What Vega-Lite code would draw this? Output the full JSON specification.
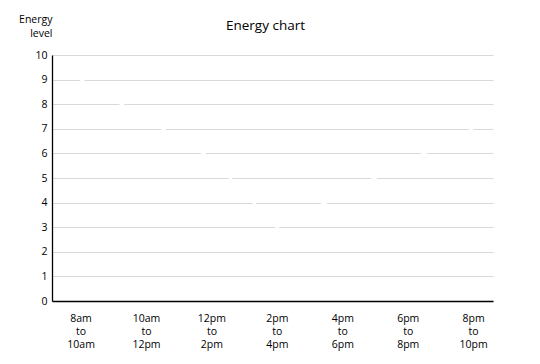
{
  "$schema": "https://vega.github.io/schema/vega-lite/v6.json",
  "autosize": {"type": "none"},
  "padding": {"left": 52, "top": 55, "right": 47, "bottom": 63},
  "width": 441,
  "height": 246,
  "background": "white",
  "title": {
    "text": "Energy chart",
    "font": "Open Sans",
    "fontSize": 13.5,
    "fontWeight": "normal",
    "color": "#000000",
    "anchor": "middle",
    "dx": -7,
    "offset": -18
  },
  "data": {
    "values": [
      {"period": "8am to 10am", "energy": 9},
      {"period": "10am to 12pm", "energy": 7.4},
      {"period": "12pm to 2pm", "energy": 5.8},
      {"period": "2pm to 4pm", "energy": 3},
      {"period": "4pm to 6pm", "energy": 4.33},
      {"period": "6pm to 8pm", "energy": 5.67},
      {"period": "8pm to 10pm", "energy": 7}
    ]
  },
  "mark": {"type": "line", "color": "white", "strokeWidth": 2.5},
  "encoding": {
    "x": {
      "field": "period",
      "type": "ordinal",
      "sort": null,
      "scale": {"type": "point", "padding": 0.37, "align": 0.59},
      "axis": {
        "title": null,
        "labelAngle": 0,
        "labelExpr": "split(datum.label, ' ')",
        "labelFont": "Open Sans",
        "labelFontSize": 10.5,
        "labelColor": "#000000",
        "labelLineHeight": 13.3,
        "labelPadding": 12,
        "labelBaseline": "top",
        "ticks": false,
        "grid": false,
        "domainColor": "#000000",
        "domainWidth": 1.3
      }
    },
    "y": {
      "field": "energy",
      "type": "quantitative",
      "scale": {"domain": [0, 10], "nice": false},
      "axis": {
        "values": [0, 1, 2, 3, 4, 5, 6, 7, 8, 9, 10],
        "title": ["Energy", "level"],
        "titleAngle": 0,
        "titleAlign": "right",
        "titleBaseline": "alphabetic",
        "titleX": 0,
        "titleY": -33,
        "titleFont": "Open Sans",
        "titleFontSize": 10.5,
        "titleFontWeight": "normal",
        "titleColor": "#000000",
        "titleLineHeight": 14,
        "labelFont": "Open Sans",
        "labelFontSize": 10.5,
        "labelColor": "#000000",
        "labelPadding": 5,
        "ticks": false,
        "domainColor": "#000000",
        "domainWidth": 1.3,
        "gridColor": "#d9d9d9",
        "gridWidth": 1.2
      }
    }
  },
  "config": {"view": {"stroke": null}}
}
